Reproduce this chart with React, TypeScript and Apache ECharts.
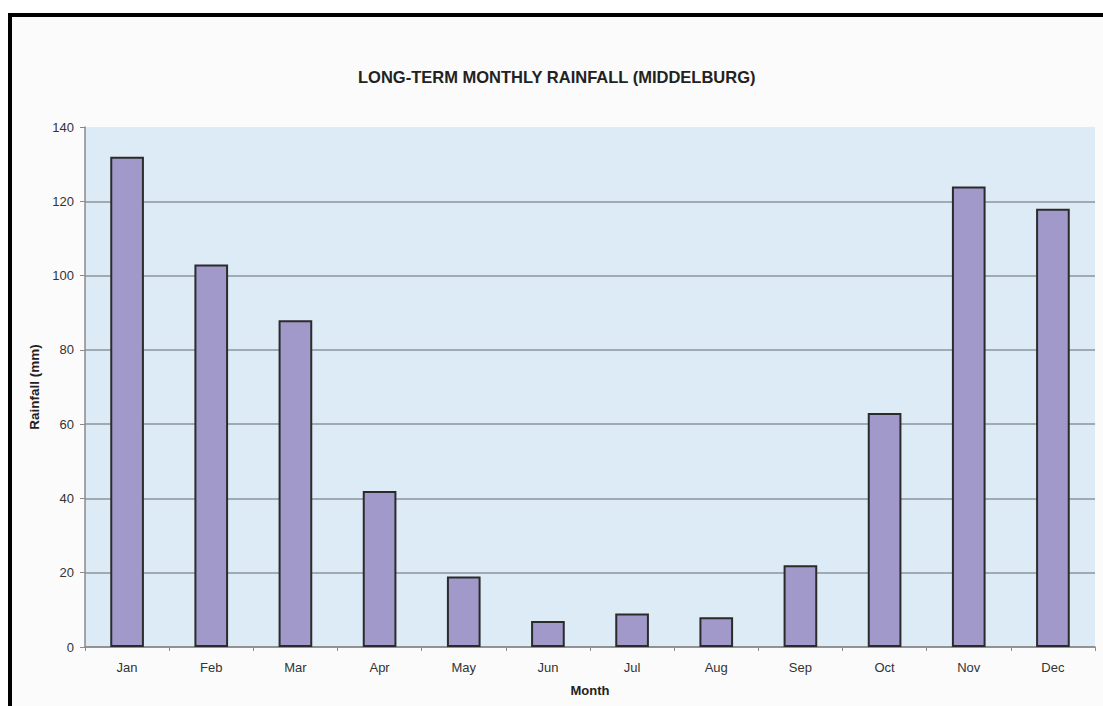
import React, { useEffect, useRef } from "react";
import * as echarts from "echarts";

const months = ["Jan", "Feb", "Mar", "Apr", "May", "Jun", "Jul", "Aug", "Sep", "Oct", "Nov", "Dec"];
const rainfall = [132, 103, 88, 42, 19, 7, 9, 8, 22, 63, 124, 118];
const yTicks = { min: 0, max: 140, interval: 20 };
const titleText = "LONG-TERM MONTHLY RAINFALL (MIDDELBURG)";
const xName = "Month";
const yName = "Rainfall (mm)";

export default function App() {
  const ref = useRef<HTMLDivElement>(null);
  useEffect(() => {
    if (!ref.current) return;
    const chart = echarts.init(ref.current, undefined, { renderer: "svg" });
    const font = "Liberation Sans, Arial, sans-serif";
    const gridColor = "#8d959b";
    const nLines = (yTicks.max - yTicks.min) / yTicks.interval + 1;
    const splitColors = Array.from({ length: nLines }, (_, i) =>
      i === nLines - 1 ? "rgba(0,0,0,0)" : gridColor
    );
    chart.setOption({
      animation: false,
      backgroundColor: "#ffffff",
      textStyle: { fontFamily: font },
      graphic: [
        {
          type: "rect",
          z: -100,
          zlevel: 0,
          silent: true,
          shape: { x: 10, y: 15, width: 1300, height: 900 },
          style: { fill: "#fbfbfb", stroke: "#000000", lineWidth: 4 },
        },
      ],
      title: {
        text: titleText,
        left: 358,
        top: 68,
        padding: 0,
        textStyle: { fontFamily: font, fontSize: 16.5, fontWeight: "bold", color: "#222" },
      },
      grid: {
        left: 85,
        right: 8,
        top: 127,
        bottom: 59,
        show: true,
        backgroundColor: "#dcebf6",
        borderWidth: 0,
        containLabel: false,
      },
      xAxis: {
        type: "category",
        data: months,
        boundaryGap: true,
        name: xName,
        nameLocation: "middle",
        nameGap: 37,
        nameTextStyle: { fontFamily: font, fontSize: 13, fontWeight: "bold", color: "#222" },
        axisLine: { show: true, lineStyle: { color: "#8a8a8a", width: 1.5 } },
        axisTick: { show: true, alignWithLabel: false, length: 4, lineStyle: { color: "#8a8a8a" } },
        axisLabel: { margin: 14, fontSize: 13, color: "#333", fontFamily: font },
        splitLine: { show: false },
      },
      yAxis: {
        type: "value",
        min: yTicks.min,
        max: yTicks.max,
        interval: yTicks.interval,
        name: yName,
        nameLocation: "middle",
        nameGap: 38,
        nameTextStyle: { fontFamily: font, fontSize: 13.5, fontWeight: "bold", color: "#222" },
        axisLine: { show: true, lineStyle: { color: "#8a8a8a", width: 1.5 } },
        axisTick: { show: true, length: 5, lineStyle: { color: "#8a8a8a" } },
        axisLabel: { margin: 11, fontSize: 13, color: "#333", fontFamily: font },
        splitLine: { show: true, lineStyle: { color: splitColors, width: 1.5 } },
      },
      series: [
        {
          type: "bar",
          data: rainfall,
          barWidth: "40%",
          itemStyle: { color: "#a099ca", borderColor: "#2b2b2b", borderWidth: 2 },
        },
      ],
    });
    return () => chart.dispose();
  }, []);
  return (
    <div
      ref={ref}
      style={{ position: "fixed", left: 0, top: 0, width: 1103, height: 706 }}
    />
  );
}
